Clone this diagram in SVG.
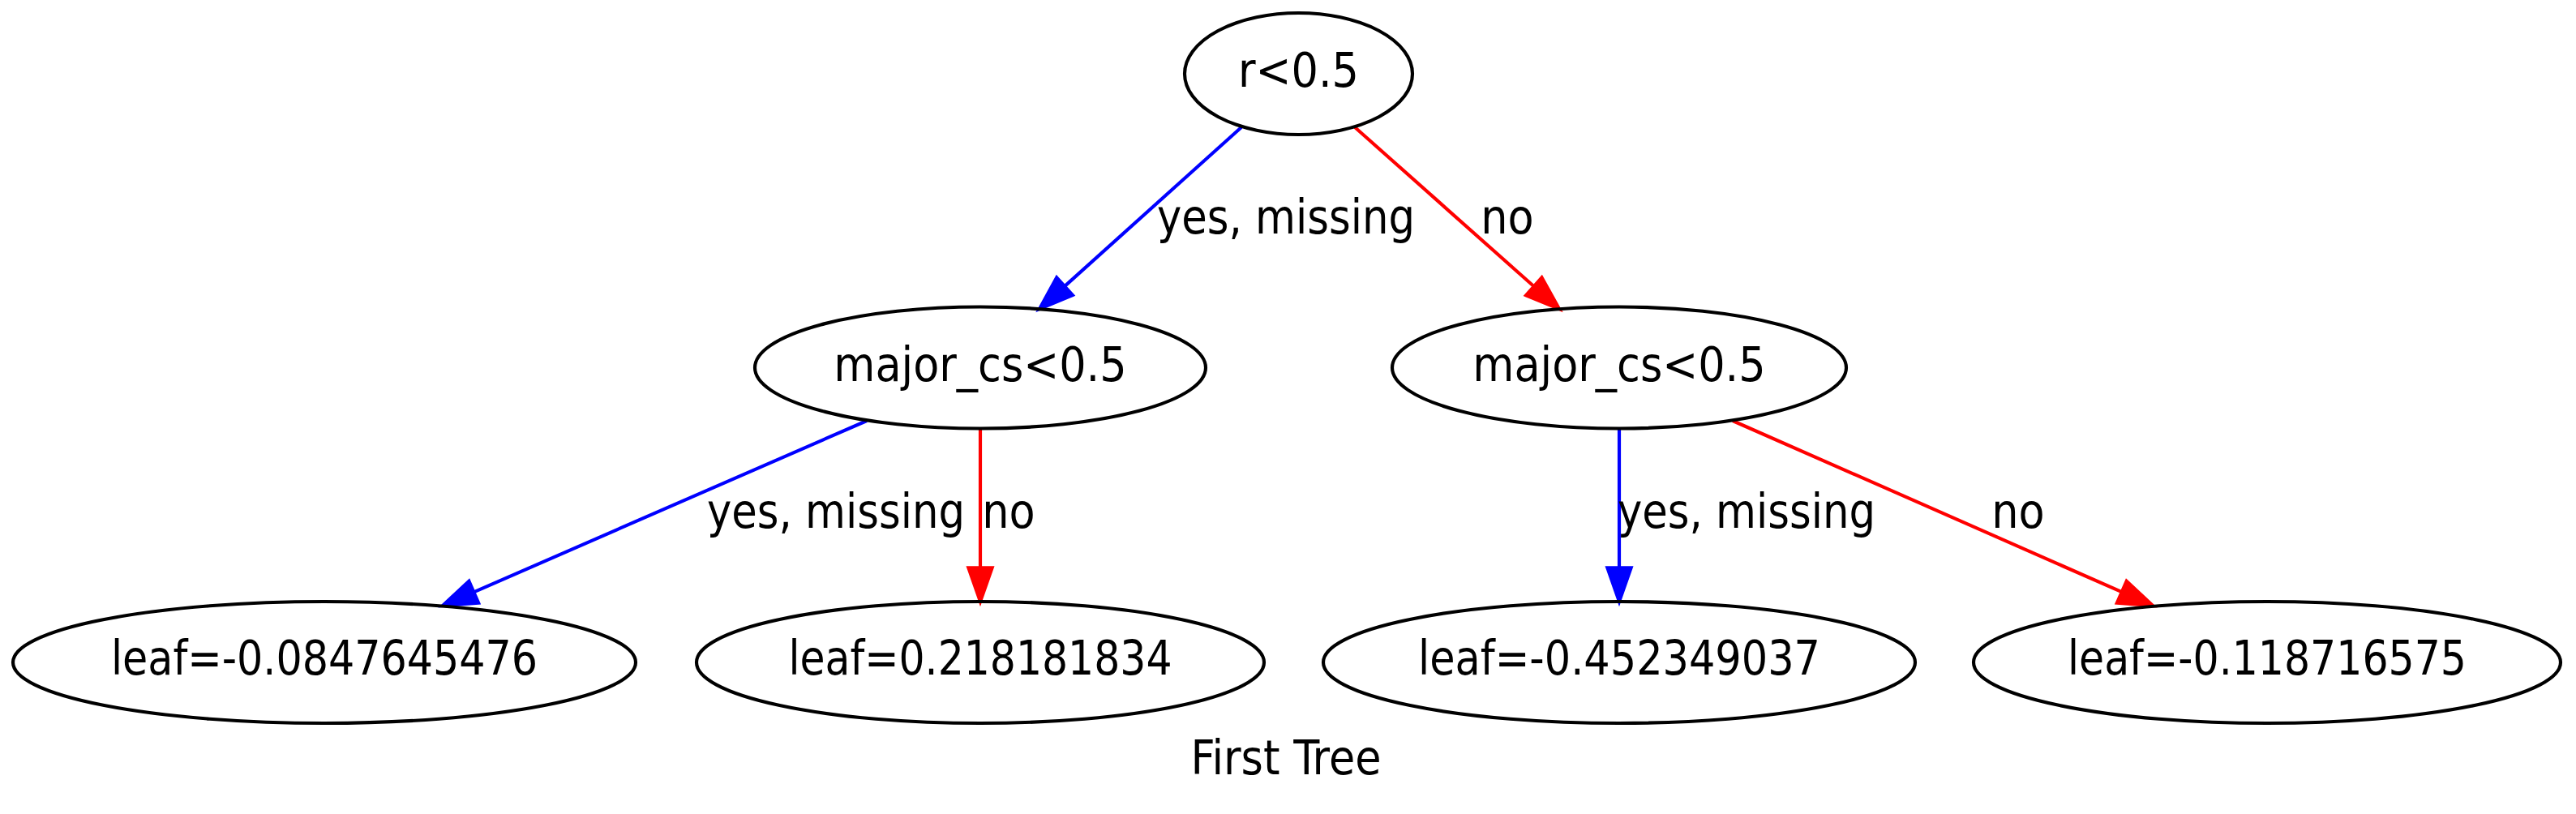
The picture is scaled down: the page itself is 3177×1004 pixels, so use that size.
<svg xmlns="http://www.w3.org/2000/svg" width="3177" height="1004" viewBox="0 0 3177 1004">
<style>
.node ellipse{fill:none;stroke:#000;stroke-width:4.17}
text{font-family:"DejaVu Sans Condensed","DejaVu Sans",sans-serif;font-stretch:condensed;font-size:58.33px;text-anchor:middle;fill:#000}
.yes line{stroke:#0000ff;stroke-width:4.17}
.yes polygon{fill:#0000ff;stroke:#0000ff;stroke-width:4.17}
.no line{stroke:#ff0000;stroke-width:4.17}
.no polygon{fill:#ff0000;stroke:#ff0000;stroke-width:4.17}
</style>
<rect width="3177" height="1004" fill="#fff"/>
<g id="connectors">
<g class="yes"><line x1="1531" y1="157" x2="1313" y2="353.1"/><polygon points="1322.8,364 1282,381 1303.2,342.3"/></g>
<g class="no"><line x1="1671" y1="157" x2="1891.8" y2="353.3"/><polygon points="1882.1,364.2 1923,381 1901.5,342.4"/></g>
<g class="yes"><line x1="1069" y1="519" x2="584.2" y2="730.3"/><polygon points="590.1,743.7 546,747 578.4,716.9"/></g>
<g class="no"><line x1="1209" y1="528.5" x2="1209" y2="700.3"/><polygon points="1194.4,700.3 1209,742 1223.6,700.3"/></g>
<g class="yes"><line x1="1997" y1="528.5" x2="1997" y2="700.3"/><polygon points="1982.4,700.3 1997,742 2011.6,700.3"/></g>
<g class="no"><line x1="2137" y1="519" x2="2616.8" y2="730.2"/><polygon points="2610.9,743.6 2655,747 2622.7,716.8"/></g>
<text x="1586" y="288" textLength="318" lengthAdjust="spacingAndGlyphs">yes, missing</text>
<text x="1859" y="288">no</text>
<text x="1031" y="651" textLength="318" lengthAdjust="spacingAndGlyphs">yes, missing</text>
<text x="1244" y="651">no</text>
<text x="2154" y="651" textLength="318" lengthAdjust="spacingAndGlyphs">yes, missing</text>
<text x="2489" y="651">no</text>
</g>
<g id="n0" class="node"><ellipse cx="1601.5" cy="91" rx="140.5" ry="75"/><text x="1601.5" y="107">r&lt;0.5</text></g>
<g id="n1" class="node"><ellipse cx="1209" cy="453.5" rx="278" ry="75"/><text x="1209" y="470">major_cs&lt;0.5</text></g>
<g id="n2" class="node"><ellipse cx="1997" cy="453.5" rx="280" ry="75"/><text x="1997" y="470">major_cs&lt;0.5</text></g>
<g id="n3" class="node"><ellipse cx="400" cy="817" rx="384" ry="75"/><text x="400" y="832" textLength="526" lengthAdjust="spacingAndGlyphs">leaf=-0.0847645476</text></g>
<g id="n4" class="node"><ellipse cx="1209" cy="817" rx="350" ry="75"/><text x="1209" y="832" textLength="473" lengthAdjust="spacingAndGlyphs">leaf=0.218181834</text></g>
<g id="n5" class="node"><ellipse cx="1997" cy="817" rx="365" ry="75"/><text x="1997" y="832" textLength="496" lengthAdjust="spacingAndGlyphs">leaf=-0.452349037</text></g>
<g id="n6" class="node"><ellipse cx="2796" cy="817" rx="362" ry="75"/><text x="2796" y="832" textLength="492" lengthAdjust="spacingAndGlyphs">leaf=-0.118716575</text></g>
<text id="title" x="1586" y="955">First Tree</text>
</svg>
